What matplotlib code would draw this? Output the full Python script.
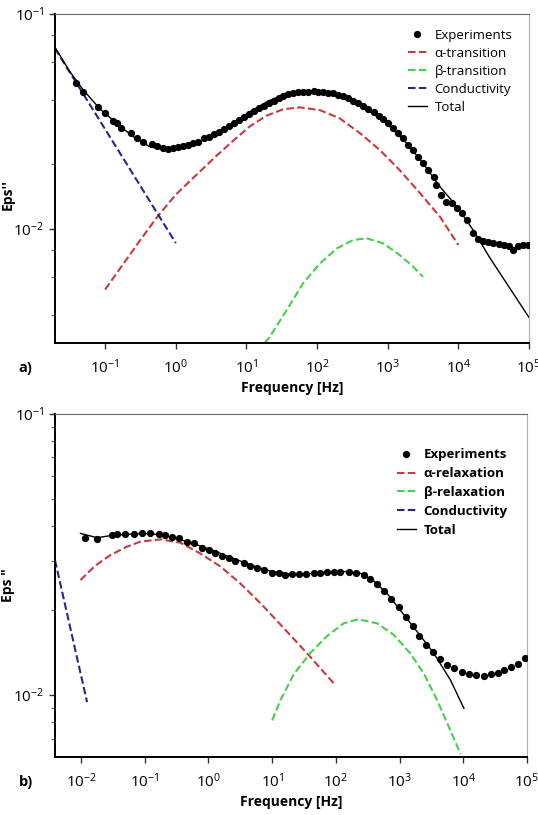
import numpy as np
import matplotlib
matplotlib.use('Agg')
import matplotlib.pyplot as plt
from matplotlib.ticker import LogLocator, NullLocator, NullFormatter, LogFormatterSciNotation
from matplotlib.lines import Line2D

plt.rcParams['font.family'] = ['Open Sans', 'DejaVu Sans']
plt.rcParams['mathtext.fontset'] = 'custom'
plt.rcParams['mathtext.rm'] = 'Liberation Sans:bold'
plt.rcParams['mathtext.bf'] = 'Liberation Sans:bold'
plt.rcParams['mathtext.default'] = 'bf'
plt.rcParams['axes.unicode_minus'] = False

# все значения хранятся как log10 (частота в Гц, Eps'')

# ---- a) ----
a_exp_f = [-1.41, -1.31, -1.10, -1.00, -0.89, -0.83, -0.77, -0.63, -0.55, -0.47, -0.33, -0.26,
           -0.18, -0.11, -0.04, 0.03, 0.10, 0.17, 0.25, 0.32, 0.40, 0.47, 0.54, 0.61, 0.68,
           0.76, 0.83, 0.90, 0.97, 1.04, 1.11, 1.18, 1.25, 1.32, 1.39, 1.46, 1.52, 1.59, 1.66,
           1.73, 1.80, 1.87, 1.95, 2.02, 2.09, 2.16, 2.23, 2.30, 2.37, 2.44, 2.51, 2.58, 2.65,
           2.72, 2.80, 2.87, 2.94, 3.01, 3.08, 3.15, 3.22, 3.29, 3.36, 3.43, 3.50, 3.57, 3.65,
           3.69, 3.76, 3.83, 3.91, 3.98, 4.05, 4.12, 4.21, 4.28, 4.35, 4.42, 4.49, 4.57, 4.64,
           4.71, 4.78, 4.85, 4.92, 4.99]
a_exp_e = [-1.322, -1.361, -1.431, -1.462, -1.498, -1.506, -1.532, -1.552, -1.578, -1.594,
           -1.606, -1.614, -1.622, -1.628, -1.625, -1.620, -1.614, -1.609, -1.601, -1.594,
           -1.578, -1.571, -1.558, -1.547, -1.535, -1.521, -1.506, -1.493, -1.478, -1.465,
           -1.450, -1.439, -1.426, -1.415, -1.403, -1.392, -1.380, -1.372, -1.367, -1.364,
           -1.361, -1.361, -1.360, -1.361, -1.361, -1.366, -1.369, -1.375, -1.381, -1.392,
           -1.403, -1.415, -1.428, -1.443, -1.457, -1.473, -1.490, -1.508, -1.532, -1.555,
           -1.578, -1.609, -1.633, -1.664, -1.694, -1.726, -1.757, -1.795, -1.842, -1.873,
           -1.881, -1.904, -1.927, -1.958, -2.020, -2.048, -2.054, -2.059, -2.067, -2.070,
           -2.074, -2.079, -2.098, -2.079, -2.074, -2.074]

a_alpha_f = [-1.0, -0.5, -0.25, 0.0, 0.34, 0.58, 0.81, 1.05, 1.29, 1.52, 1.76, 2.04, 2.32,
             2.61, 2.89, 3.17, 3.46, 3.74, 4.0]
a_alpha_e = [-2.281, -2.05, -1.938, -1.84, -1.733, -1.658, -1.590, -1.522, -1.472, -1.443,
             -1.434, -1.447, -1.485, -1.555, -1.633, -1.726, -1.834, -1.943, -2.074]

a_beta_f = [1.26, 1.33, 1.57, 1.80, 2.04, 2.28, 2.51, 2.70, 2.94, 3.17, 3.36, 3.50]
a_beta_e = [-2.53, -2.501, -2.377, -2.253, -2.160, -2.090, -2.051, -2.043, -2.067, -2.121,
            -2.175, -2.222]

a_cond_f = [-1.71, 0.0]
a_cond_e = [-1.160, -2.065]

a_tot_f = [-1.71, -1.50, -1.31, -1.08, -0.84, -0.60, -0.37, -0.13, 0.10, 0.34, 0.58, 0.81,
           1.05, 1.29, 1.52, 1.94, 2.32, 2.65, 2.98, 3.27, 3.50, 3.74, 3.98, 4.21, 4.45, 5.0]
a_tot_e = [-1.155, -1.268, -1.353, -1.439, -1.508, -1.571, -1.617, -1.633, -1.620, -1.594,
           -1.555, -1.508, -1.454, -1.408, -1.375, -1.361, -1.377, -1.431, -1.508, -1.601,
           -1.694, -1.803, -1.896, -2.005, -2.136, -2.411]

# ---- b) ----
b_exp_f = [-1.931, -1.748, -1.512, -1.434, -1.303, -1.172, -1.041, -0.911, -0.780, -0.675,
           -0.570, -0.466, -0.335, -0.230, -0.099, 0.005, 0.110, 0.215, 0.319, 0.424, 0.555,
           0.659, 0.764, 0.869, 1.000, 1.104, 1.209, 1.313, 1.418, 1.538, 1.654, 1.758, 1.863,
           1.968, 2.072, 2.203, 2.323, 2.438, 2.543, 2.648, 2.752, 2.873, 2.988, 3.093, 3.208,
           3.302, 3.417, 3.527, 3.642, 3.747, 3.851, 3.982, 4.087, 4.207, 4.322, 4.438, 4.542,
           4.647, 4.757, 4.856, 4.976]
b_exp_e = [-1.440, -1.446, -1.431, -1.428, -1.428, -1.427, -1.425, -1.423, -1.427, -1.431,
           -1.437, -1.442, -1.454, -1.460, -1.478, -1.484, -1.494, -1.505, -1.514, -1.522,
           -1.531, -1.541, -1.549, -1.555, -1.565, -1.567, -1.573, -1.569, -1.571, -1.569,
           -1.567, -1.565, -1.561, -1.561, -1.561, -1.563, -1.565, -1.573, -1.587, -1.606,
           -1.629, -1.659, -1.688, -1.721, -1.754, -1.790, -1.822, -1.846, -1.873, -1.893,
           -1.905, -1.919, -1.926, -1.929, -1.931, -1.926, -1.921, -1.911, -1.899, -1.890,
           -1.867]

b_alpha_f = [-2.01, -1.78, -1.54, -1.30, -1.07, -0.75, -0.44, -0.13, 0.19, 0.50, 0.82, 1.13,
             1.55, 1.99]
b_alpha_e = [-1.591, -1.540, -1.502, -1.474, -1.454, -1.446, -1.458, -1.496, -1.543, -1.603,
             -1.674, -1.749, -1.852, -1.964]

b_beta_f = [1.0, 1.13, 1.34, 1.60, 1.86, 2.12, 2.35, 2.65, 2.91, 3.17, 3.38, 3.59, 3.96]
b_beta_e = [-2.09, -2.018, -1.925, -1.850, -1.790, -1.745, -1.730, -1.745, -1.786, -1.852,
            -1.923, -2.018, -2.21]

b_cond_f = [-2.41, -1.906]
b_cond_e = [-1.52, -2.025]

b_tot_f = [-2.01, -1.75, -1.51, -1.25, -0.91, -0.60, -0.28, 0.03, 0.35, 0.66, 0.97, 1.29,
           1.60, 1.90, 2.15, 2.39, 2.60, 2.81, 3.07, 3.33, 3.54, 3.80, 4.01]
b_tot_e = [-1.425, -1.440, -1.432, -1.428, -1.425, -1.437, -1.458, -1.482, -1.510, -1.537,
           -1.559, -1.570, -1.568, -1.562, -1.561, -1.567, -1.595, -1.640, -1.715, -1.790,
           -1.852, -1.947, -2.047]

a_xticks = [1e-1, 1e0, 1e1, 1e2, 1e3, 1e4, 1e5]
b_xticks = [1e-2, 1e-1, 1e0, 1e1, 1e2, 1e3, 1e4, 1e5]

RED = '#c9393b'
GREEN = '#45d145'
BLUE = '#26268f'
DASH = (3.6, 1.6)


def p(v):
    return np.power(10.0, v)


def draw(ax, exp, alpha, beta, cond, tot):
    ax.plot(p(exp[0]), p(exp[1]), 'o', color='black', ms=4.2, zorder=3)
    ax.plot(p(alpha[0]), p(alpha[1]), color=RED, lw=1.5, dashes=DASH)
    ax.plot(p(beta[0]), p(beta[1]), color=GREEN, lw=1.5, dashes=DASH)
    ax.plot(p(cond[0]), p(cond[1]), color=BLUE, lw=1.5, dashes=DASH)
    ax.plot(p(tot[0]), p(tot[1]), color='black', lw=1.0, zorder=4)


def style(ax, xlim, ylim, xticks, subs):
    ax.set_xscale('log')
    ax.set_yscale('log')
    ax.set_xticks(xticks)
    ax.set_xlim(*xlim)
    ax.set_ylim(*ylim)
    ax.xaxis.set_minor_locator(NullLocator())
    ax.yaxis.set_major_locator(LogLocator(base=10, numticks=20))
    ax.yaxis.set_minor_locator(LogLocator(base=10, subs=subs, numticks=20))
    ax.xaxis.set_major_formatter(LogFormatterSciNotation())
    ax.yaxis.set_major_formatter(LogFormatterSciNotation())
    ax.yaxis.set_minor_formatter(NullFormatter())
    ax.tick_params(axis='both', which='major', direction='out', length=4, width=1,
                   labelsize=11, color='#333333')
    ax.tick_params(axis='x', which='major', pad=7)
    ax.tick_params(axis='y', which='minor', direction='out', length=3, width=0.8,
                   color='#555555')
    ax.spines['left'].set_color('black')
    ax.spines['bottom'].set_color('black')
    ax.spines['left'].set_linewidth(1.4)
    ax.spines['bottom'].set_linewidth(1.4)
    ax.spines['top'].set_color('#666666')
    ax.spines['right'].set_color('#b0b0b0')
    ax.set_xlabel('Frequency [Hz]', fontsize=10, fontweight='bold', labelpad=3)


def legend(ax, labels, anchor, weight, spacing):
    handles = [
        Line2D([], [], ls='none', marker='o', color='black', ms=4.2),
        Line2D([], [], color=RED, lw=1.5, dashes=DASH),
        Line2D([], [], color=GREEN, lw=1.5, dashes=DASH),
        Line2D([], [], color=BLUE, lw=1.5, dashes=DASH),
        Line2D([], [], color='black', lw=1.0),
    ]
    ax.legend(handles, labels, loc='upper left', bbox_to_anchor=anchor, frameon=False,
              handlelength=1.4, handletextpad=0.6, labelspacing=spacing, borderpad=0,
              borderaxespad=0, prop={'size': 9.5, 'weight': weight})


fig = plt.figure(figsize=(5.38, 8.15), dpi=100)
ax1 = fig.add_axes([0.1022, 0.5791, 0.8811, 0.4037])
ax2 = fig.add_axes([0.1022, 0.0712, 0.8773, 0.4209])

draw(ax1, (a_exp_f, a_exp_e), (a_alpha_f, a_alpha_e), (a_beta_f, a_beta_e),
     (a_cond_f, a_cond_e), (a_tot_f, a_tot_e))
style(ax1, (p(-1.71), 1e5), (p(-2.53), 0.1), a_xticks, (2, 4, 6, 8))
ax1.set_ylabel("Eps''", fontsize=10, fontweight='bold')
ax1.yaxis.set_label_coords(-0.085, 0.45)
legend(ax1, ['Experiments', 'α-transition', 'β-transition', 'Conductivity', 'Total'],
       (0.745, 0.955), 'normal', 0.38)
fig.text(0.035, 0.543, 'a)', fontsize=10.5, fontweight='bold')

draw(ax2, (b_exp_f, b_exp_e), (b_alpha_f, b_alpha_e), (b_beta_f, b_beta_e),
     (b_cond_f, b_cond_e), (b_tot_f, b_tot_e))
style(ax2, (p(-2.41), 1e5), (p(-2.22), 0.1), b_xticks, (2, 3, 4, 5, 6, 7, 8, 9))
ax2.set_ylabel('Eps "', fontsize=10, fontweight='bold')
ax2.yaxis.set_label_coords(-0.085, 0.5)
legend(ax2, ['Experiments', 'α-relaxation', 'β-relaxation', 'Conductivity', 'Total'],
       (0.725, 0.90), 'bold', 0.45)
fig.text(0.035, 0.035, 'b)', fontsize=10.5, fontweight='bold')

fig.savefig('out.png', dpi=100)
